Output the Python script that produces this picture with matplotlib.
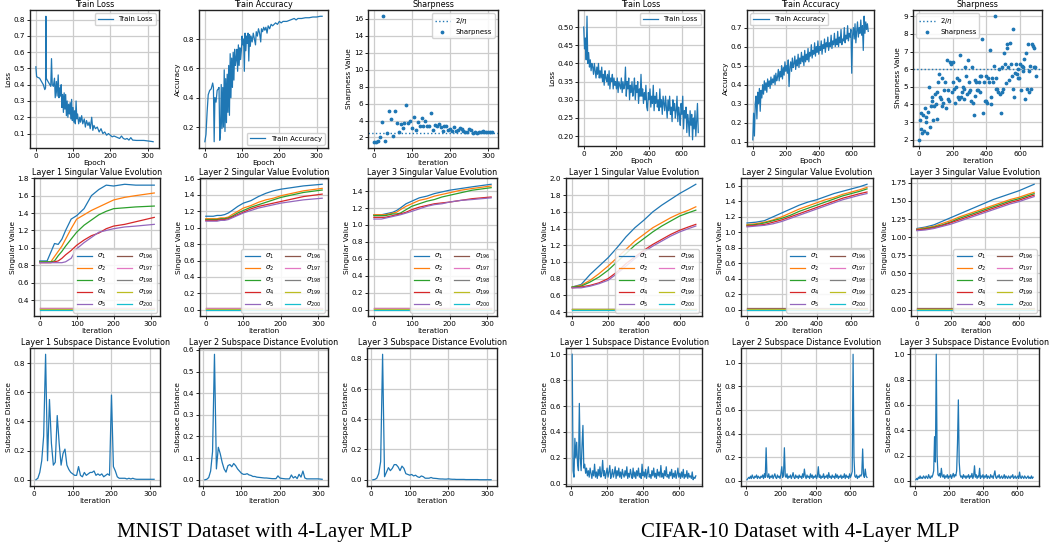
import matplotlib
matplotlib.use('Agg')
import matplotlib.pyplot as plt
import numpy as np

# ---------------- MNIST data ----------------
mn_loss_x = [0, 2, 5, 10, 15, 20, 24, 26, 27, 28, 30, 35, 40, 42, 44, 47, 50, 52, 55, 57, 60, 62, 64, 66, 68, 70, 72, 74, 76, 78,
             80, 82, 84, 86, 88, 90, 92, 94, 96, 98, 100, 102, 104, 106, 108, 110, 112, 115, 118, 120, 123, 126, 130, 133, 136,
             140, 143, 146, 150, 153, 156, 160, 165, 170, 175, 180, 185, 190, 195, 200, 205, 210, 215, 220, 225, 230, 235, 240,
             245, 250, 255, 260, 270, 280, 290, 300, 310, 315]
mn_loss_y = [0.51, 0.45, 0.445, 0.44, 0.42, 0.40, 0.37, 0.38, 0.82, 0.44, 0.43, 0.41, 0.39, 0.56, 0.40, 0.39, 0.44, 0.32, 0.42, 0.33,
             0.46, 0.32, 0.38, 0.33, 0.40, 0.26, 0.34, 0.23, 0.35, 0.25, 0.34, 0.21, 0.30, 0.20, 0.28, 0.22, 0.29, 0.19, 0.31, 0.18,
             0.26, 0.17, 0.24, 0.16, 0.30, 0.19, 0.22, 0.16, 0.20, 0.17, 0.21, 0.16, 0.19, 0.14, 0.18, 0.15, 0.17, 0.13, 0.20, 0.12,
             0.15, 0.13, 0.14, 0.11, 0.13, 0.10, 0.11, 0.09, 0.10, 0.09, 0.08, 0.085, 0.08, 0.075, 0.07, 0.085, 0.07, 0.065, 0.07,
             0.06, 0.075, 0.06, 0.058, 0.058, 0.058, 0.055, 0.052, 0.05]

mn_acc_x = [0, 3, 6, 9, 13, 17, 21, 23, 25, 27, 30, 33, 36, 38, 40, 42, 44, 46, 48, 50, 52, 54, 56, 58, 60, 62, 64, 66, 68, 70,
            72, 74, 76, 78, 80, 82, 84, 86, 88, 90, 92, 94, 96, 98, 100, 102, 104, 106, 108, 110, 112, 114, 116, 118, 120, 122,
            124, 127, 130, 133, 136, 138, 141, 144, 147, 150, 152, 155, 158, 161, 164, 167, 170, 174, 178, 182, 186, 190, 195,
            200, 205, 210, 220, 230, 240, 245, 250, 260, 270, 280, 290, 300, 310, 315]
mn_acc_y = [0.10, 0.15, 0.30, 0.42, 0.45, 0.46, 0.50, 0.47, 0.10, 0.40, 0.37, 0.45, 0.46, 0.47, 0.11, 0.16, 0.49, 0.19, 0.47, 0.20,
            0.59, 0.17, 0.53, 0.23, 0.56, 0.30, 0.62, 0.28, 0.70, 0.40, 0.67, 0.47, 0.71, 0.52, 0.73, 0.62, 0.66, 0.73, 0.58, 0.76,
            0.62, 0.74, 0.66, 0.72, 0.82, 0.76, 0.80, 0.58, 0.84, 0.72, 0.82, 0.77, 0.84, 0.65, 0.83, 0.75, 0.82, 0.78, 0.84, 0.80,
            0.76, 0.85, 0.82, 0.87, 0.84, 0.78, 0.87, 0.85, 0.88, 0.86, 0.88, 0.84, 0.89, 0.87, 0.90, 0.89, 0.90, 0.91, 0.90, 0.92,
            0.91, 0.92, 0.92, 0.93, 0.94, 0.93, 0.94, 0.94, 0.945, 0.945, 0.95, 0.95, 0.955, 0.955]

mn_sharp_x = list(range(0, 315, 5))
mn_sharp_y = [1.5, 1.5, 1.6, 2.0, 3.8, 16.3, 1.6, 2.5, 5.1, 4.2, 2.2, 5.1, 3.7, 2.6, 3.6, 3.1, 3.7, 5.8, 3.7, 3.9,
              3.1, 4.4, 2.9, 3.8, 3.3, 4.3, 3.3, 3.9, 3.4, 3.3, 4.9, 2.9, 3.5, 3.3, 3.6, 3.2, 2.8, 3.4, 3.4, 2.9,
              3.0, 2.8, 3.2, 2.8, 2.9, 3.1, 3.0, 2.8, 2.6, 2.7, 3.0, 2.9, 2.5, 2.6, 2.5, 2.6, 2.6, 2.8, 2.7, 2.7,
              2.6, 2.7, 2.7]
mn_two_over_eta = 2.5

mn_sv_x = [0, 20, 30, 40, 50, 60, 70, 85, 100, 120, 140, 160, 180, 200, 230, 260, 310]
mn_sv1 = [
    [0.85, 0.85, 0.95, 1.05, 1.04, 1.10, 1.20, 1.33, 1.37, 1.45, 1.60, 1.67, 1.72, 1.71, 1.73, 1.72, 1.72],
    [0.84, 0.84, 0.84, 0.90, 0.96, 1.02, 1.10, 1.22, 1.33, 1.38, 1.43, 1.47, 1.51, 1.55, 1.58, 1.60, 1.63],
    [0.84, 0.84, 0.84, 0.85, 0.91, 0.96, 1.02, 1.10, 1.18, 1.26, 1.32, 1.38, 1.42, 1.45, 1.46, 1.47, 1.48],
    [0.83, 0.83, 0.83, 0.84, 0.85, 0.88, 0.92, 0.97, 1.03, 1.09, 1.14, 1.17, 1.22, 1.25, 1.27, 1.30, 1.35],
    [0.83, 0.83, 0.83, 0.83, 0.83, 0.83, 0.84, 0.88, 0.99, 1.06, 1.12, 1.18, 1.20, 1.22, 1.24, 1.25, 1.27],
]
mn_sv1_small = [0.31, 0.305, 0.30, 0.295, 0.29]
mn_sv2 = [
    [1.14, 1.14, 1.15, 1.15, 1.16, 1.18, 1.21, 1.26, 1.30, 1.33, 1.38, 1.42, 1.45, 1.47, 1.49, 1.51, 1.53],
    [1.11, 1.11, 1.11, 1.12, 1.12, 1.13, 1.16, 1.20, 1.24, 1.27, 1.31, 1.34, 1.36, 1.39, 1.42, 1.45, 1.48],
    [1.10, 1.10, 1.10, 1.11, 1.11, 1.12, 1.14, 1.18, 1.21, 1.25, 1.28, 1.31, 1.34, 1.37, 1.40, 1.43, 1.46],
    [1.09, 1.09, 1.09, 1.10, 1.10, 1.11, 1.13, 1.16, 1.19, 1.23, 1.26, 1.28, 1.30, 1.32, 1.35, 1.38, 1.41],
    [1.08, 1.08, 1.08, 1.09, 1.09, 1.10, 1.12, 1.15, 1.18, 1.21, 1.24, 1.26, 1.28, 1.30, 1.32, 1.34, 1.36],
]
mn_sv2_small = [0.02, 0.015, 0.01, 0.005, 0.0]
mn_sv3 = [
    [1.12, 1.12, 1.13, 1.14, 1.15, 1.17, 1.20, 1.25, 1.28, 1.32, 1.34, 1.37, 1.39, 1.41, 1.43, 1.45, 1.48],
    [1.12, 1.12, 1.12, 1.13, 1.14, 1.15, 1.18, 1.22, 1.25, 1.29, 1.31, 1.34, 1.36, 1.38, 1.41, 1.43, 1.46],
    [1.11, 1.11, 1.11, 1.12, 1.13, 1.13, 1.14, 1.18, 1.22, 1.25, 1.28, 1.30, 1.33, 1.35, 1.38, 1.41, 1.44],
    [1.09, 1.09, 1.09, 1.10, 1.11, 1.12, 1.13, 1.15, 1.18, 1.21, 1.23, 1.25, 1.26, 1.27, 1.29, 1.31, 1.33],
    [1.07, 1.07, 1.08, 1.09, 1.10, 1.11, 1.12, 1.14, 1.16, 1.19, 1.22, 1.24, 1.25, 1.27, 1.29, 1.30, 1.32],
]
mn_sv3_small = [0.02, 0.015, 0.01, 0.005, 0.0]

mn_sd_x = list(range(5, 315, 5))
mn_sd1 = [0.0, 0.01, 0.05, 0.13, 0.30, 0.86, 0.13, 0.55, 0.25, 0.10, 0.12, 0.44, 0.25, 0.10, 0.18, 0.21, 0.10, 0.07, 0.05, 0.04,
          0.03, 0.03, 0.09, 0.03, 0.02, 0.05, 0.03, 0.04, 0.05, 0.05, 0.06, 0.03, 0.04, 0.03, 0.04, 0.02, 0.03, 0.04, 0.03, 0.58,
          0.09, 0.06, 0.02, 0.01, 0.01, 0.01, 0.01, 0.005, 0.01, 0.005, 0.01, 0.005, 0.003, 0.003, 0.003, 0.003, 0.003, 0.003,
          0.003, 0.003, 0.003, 0.003]
mn_sd2 = [0.0, 0.002, 0.01, 0.04, 0.13, 0.58, 0.05, 0.15, 0.12, 0.08, 0.05, 0.035, 0.065, 0.07, 0.06, 0.075, 0.065, 0.05, 0.04,
          0.03, 0.025, 0.025, 0.028, 0.022, 0.02, 0.015, 0.015, 0.012, 0.011, 0.01, 0.009, 0.008, 0.008, 0.007, 0.006, 0.005,
          0.005, 0.005, 0.018, 0.008, 0.006, 0.005, 0.004, 0.004, 0.004, 0.022, 0.008, 0.015, 0.005, 0.025, 0.012, 0.04, 0.008,
          0.004, 0.004, 0.004, 0.004, 0.004, 0.004, 0.004, 0.003, 0.002]
mn_sd3 = [0.0, 0.002, 0.01, 0.04, 0.12, 0.83, 0.02, 0.05, 0.08, 0.06, 0.075, 0.10, 0.10, 0.085, 0.06, 0.09, 0.075, 0.04, 0.035,
          0.03, 0.035, 0.025, 0.03, 0.02, 0.015, 0.025, 0.02, 0.01, 0.01, 0.01, 0.015, 0.01, 0.009, 0.008, 0.006, 0.005, 0.005,
          0.004, 0.004, 0.006, 0.004, 0.003, 0.003, 0.002, 0.002, 0.002, 0.002, 0.002, 0.001, 0.001, 0.001, 0.001, 0.001,
          0.001, 0.001, 0.0, 0.0, 0.0, 0.0, 0.0, 0.0, 0.0]

# ---------------- CIFAR-10 data ----------------
cf_epoch_x = list(range(0, 705, 5))
cf_loss = [0.50, 0.44, 0.47, 0.41, 0.53, 0.40, 0.43, 0.39, 0.41, 0.38, 0.40,
           0.39, 0.37, 0.40, 0.38, 0.36, 0.39, 0.37, 0.40, 0.36, 0.38,
           0.36, 0.39, 0.35, 0.37, 0.34, 0.38, 0.36, 0.35, 0.37, 0.34,
           0.38, 0.33, 0.36, 0.35, 0.37, 0.33, 0.36, 0.34, 0.35, 0.33,
           0.36, 0.32, 0.35, 0.34, 0.33, 0.36, 0.32, 0.35, 0.33, 0.34,
           0.39, 0.31, 0.35, 0.33, 0.36, 0.30, 0.34, 0.32, 0.35, 0.31,
           0.33, 0.36, 0.30, 0.34, 0.32, 0.35, 0.29, 0.33, 0.31, 0.37,
           0.31, 0.33, 0.29, 0.32, 0.30, 0.34, 0.28, 0.27, 0.32, 0.30,
           0.33, 0.28, 0.31, 0.29, 0.34, 0.27, 0.31, 0.29, 0.32, 0.28,
           0.30, 0.27, 0.33, 0.28, 0.30, 0.26, 0.31, 0.29, 0.27, 0.31,
           0.28, 0.25, 0.30, 0.27, 0.31, 0.26, 0.28, 0.24, 0.30, 0.27,
           0.29, 0.25, 0.27, 0.31, 0.24, 0.28, 0.26, 0.23, 0.29, 0.26,
           0.31, 0.22, 0.27, 0.25, 0.28, 0.21, 0.26, 0.24, 0.20, 0.27,
           0.23, 0.26, 0.19, 0.25, 0.22, 0.27, 0.20, 0.24, 0.29, 0.21]
cf_acc = [0.11, 0.25, 0.13, 0.30, 0.34, 0.22, 0.36, 0.30, 0.38, 0.26, 0.37,
          0.33, 0.40, 0.35, 0.42, 0.37, 0.41, 0.36, 0.43, 0.39, 0.42,
          0.38, 0.44, 0.40, 0.43, 0.41, 0.45, 0.40, 0.46, 0.42, 0.44,
          0.48, 0.42, 0.47, 0.44, 0.50, 0.43, 0.49, 0.45, 0.52, 0.47,
          0.50, 0.46, 0.53, 0.39, 0.49, 0.52, 0.47, 0.54, 0.49, 0.51,
          0.55, 0.48, 0.53, 0.50, 0.56, 0.49, 0.54, 0.51, 0.57, 0.52,
          0.55, 0.50, 0.58, 0.52, 0.56, 0.53, 0.59, 0.52, 0.57, 0.55,
          0.61, 0.54, 0.58, 0.56, 0.62, 0.55, 0.60, 0.57, 0.63, 0.56,
          0.60, 0.58, 0.63, 0.56, 0.61, 0.59, 0.64, 0.57, 0.62, 0.60,
          0.65, 0.58, 0.62, 0.60, 0.66, 0.59, 0.63, 0.61, 0.67, 0.60,
          0.64, 0.61, 0.68, 0.60, 0.65, 0.62, 0.69, 0.61, 0.64, 0.63,
          0.70, 0.62, 0.66, 0.64, 0.71, 0.63, 0.67, 0.65, 0.69, 0.46,
          0.66, 0.70, 0.64, 0.72, 0.62, 0.68, 0.73, 0.65, 0.70, 0.67,
          0.74, 0.66, 0.71, 0.58, 0.76, 0.67, 0.73, 0.69, 0.72, 0.68]

cf_sharp_x = list(range(0, 700, 5))
cf_sharp_y = [2.0, 3.1, 2.6, 3.5, 2.4, 3.4, 2.5, 3.8, 3.3, 3.0,
              2.4, 3.6, 5.0, 2.7, 3.9, 4.4, 4.2, 3.1, 3.9, 4.6,
              4.0, 4.7, 3.2, 5.3, 5.7, 4.4, 4.3, 3.9, 5.5, 4.1,
              4.8, 5.3, 3.8, 6.5, 4.3, 4.8, 4.2, 6.4, 6.3, 4.7,
              6.4, 5.3, 4.9, 4.1, 5.0, 5.5, 4.4, 4.3, 5.4, 6.8,
              4.4, 4.7, 5.0, 4.3, 4.9, 6.1, 5.6, 4.6, 6.5, 4.7,
              5.3, 4.8, 4.2, 6.1, 4.1, 3.4, 4.5, 5.4, 5.3, 4.8,
              4.8, 5.3, 5.6, 4.7, 5.6, 7.7, 3.5, 5.3, 4.2, 5.6,
              4.2, 4.1, 5.5, 5.3, 7.1, 4.4, 4.0, 5.5, 5.3, 6.2,
              9.0, 5.5, 4.9, 4.9, 4.7, 6.0, 4.6, 3.5, 4.7, 6.1,
              4.9, 6.9, 6.3, 5.2, 7.2, 7.4, 6.1, 5.4, 7.5, 6.3,
              5.6, 4.9, 8.3, 4.4, 5.8, 6.3, 5.7, 5.5, 6.0, 5.5,
              6.3, 4.8, 6.2, 5.9, 6.1, 6.6, 4.3, 6.9, 4.9, 7.4,
              4.7, 5.9, 6.2, 4.9, 7.4, 7.3, 7.2, 6.1, 6.1, 5.6]
cf_two_over_eta = 6.0

cf_sv_x = [0, 50, 100, 150, 200, 250, 300, 350, 400, 450, 500, 550, 600, 650, 690]
cf_sv1 = [
    [0.70, 0.73, 0.85, 0.95, 1.05, 1.17, 1.30, 1.41, 1.50, 1.60, 1.68, 1.75, 1.82, 1.88, 1.93],
    [0.70, 0.72, 0.78, 0.86, 0.95, 1.05, 1.15, 1.25, 1.33, 1.41, 1.47, 1.53, 1.58, 1.62, 1.66],
    [0.70, 0.71, 0.76, 0.82, 0.90, 1.00, 1.10, 1.20, 1.28, 1.36, 1.43, 1.49, 1.55, 1.59, 1.62],
    [0.69, 0.70, 0.72, 0.75, 0.80, 0.88, 0.98, 1.06, 1.14, 1.21, 1.27, 1.33, 1.38, 1.42, 1.45],
    [0.69, 0.69, 0.71, 0.74, 0.78, 0.86, 0.95, 1.04, 1.12, 1.19, 1.25, 1.31, 1.36, 1.40, 1.43],
]
cf_sv1_small = [0.44, 0.437, 0.434, 0.431, 0.428]
cf_sv2 = [
    [1.12, 1.13, 1.15, 1.20, 1.25, 1.30, 1.35, 1.39, 1.42, 1.46, 1.50, 1.53, 1.56, 1.59, 1.62],
    [1.10, 1.11, 1.13, 1.16, 1.20, 1.25, 1.30, 1.34, 1.38, 1.42, 1.45, 1.49, 1.52, 1.55, 1.58],
    [1.09, 1.10, 1.12, 1.15, 1.18, 1.22, 1.27, 1.31, 1.35, 1.39, 1.43, 1.47, 1.50, 1.53, 1.56],
    [1.08, 1.09, 1.10, 1.13, 1.16, 1.20, 1.24, 1.28, 1.32, 1.36, 1.40, 1.44, 1.47, 1.50, 1.52],
    [1.07, 1.08, 1.09, 1.11, 1.14, 1.18, 1.22, 1.26, 1.30, 1.34, 1.38, 1.42, 1.45, 1.48, 1.50],
]
cf_sv2_small = [0.02, 0.015, 0.01, 0.005, 0.0]
cf_sv3 = [
    [1.12, 1.14, 1.17, 1.22, 1.27, 1.32, 1.37, 1.42, 1.47, 1.52, 1.56, 1.60, 1.64, 1.69, 1.73],
    [1.11, 1.13, 1.15, 1.19, 1.23, 1.28, 1.32, 1.36, 1.40, 1.44, 1.48, 1.52, 1.55, 1.59, 1.62],
    [1.10, 1.12, 1.14, 1.17, 1.21, 1.26, 1.30, 1.34, 1.38, 1.42, 1.46, 1.50, 1.53, 1.57, 1.60],
    [1.10, 1.11, 1.13, 1.16, 1.20, 1.24, 1.28, 1.32, 1.36, 1.40, 1.44, 1.48, 1.51, 1.55, 1.58],
    [1.09, 1.10, 1.12, 1.15, 1.18, 1.22, 1.26, 1.30, 1.34, 1.38, 1.42, 1.46, 1.49, 1.53, 1.56],
]
cf_sv3_small = [0.02, 0.015, 0.01, 0.005, 0.0]

cf_sd_x = list(range(5, 700, 5))
cf_sd1 = [1.00, 0.10, 0.05, 0.35, 0.20, 0.32, 0.15, 0.10, 0.62, 0.20,
          0.10, 0.30, 0.45, 0.12, 0.15, 0.08, 0.12, 0.06, 0.10, 0.05,
          0.12, 0.08, 0.04, 0.10, 0.06, 0.15, 0.05, 0.09, 0.04, 0.11,
          0.06, 0.13, 0.05, 0.08, 0.18, 0.06, 0.10, 0.04, 0.08, 0.12,
          0.05, 0.09, 0.14, 0.04, 0.07, 0.11, 0.05, 0.08, 0.13, 0.04,
          0.10, 0.06, 0.12, 0.05, 0.09, 0.04, 0.11, 0.07, 0.05, 0.10,
          0.06, 0.13, 0.04, 0.08, 0.05, 0.11, 0.07, 0.04, 0.12, 0.05,
          0.09, 0.04, 0.10, 0.06, 0.12, 0.05, 0.08, 0.04, 0.15, 0.06,
          0.09, 0.05, 0.11, 0.04, 0.08, 0.13, 0.05, 0.07, 0.04, 0.10,
          0.06, 0.12, 0.05, 0.08, 0.04, 0.11, 0.06, 0.09, 0.05, 0.14,
          0.05, 0.08, 0.04, 0.10, 0.06, 0.13, 0.05, 0.07, 0.04, 0.09,
          0.06, 0.11, 0.04, 0.08, 0.05, 0.10, 0.04, 0.07, 0.12, 0.05,
          0.08, 0.04, 0.09, 0.05, 0.11, 0.04, 0.07, 0.05, 0.10, 0.04,
          0.08, 0.05, 0.06, 0.04, 0.09, 0.03, 0.05, 0.04, 0.06]
cf_sd2 = [0.01, 0.02, 0.03, 0.02, 0.04, 0.02, 0.05, 0.03, 0.02, 0.04,
          0.03, 0.05, 0.02, 0.04, 0.03, 0.02, 0.04, 0.03, 0.05, 0.02,
          0.06, 0.03, 0.28, 0.04, 0.03, 0.06, 0.02, 0.04, 0.03, 0.05,
          0.02, 0.04, 0.06, 0.03, 0.02, 0.05, 0.03, 0.04, 0.02, 0.06,
          0.12, 0.03, 0.05, 0.28, 0.04, 0.03, 0.06, 0.02, 0.04, 0.03,
          0.05, 0.02, 0.04, 0.07, 0.03, 0.02, 0.05, 0.03, 0.04, 0.02,
          0.05, 0.03, 0.04, 0.02, 0.06, 0.03, 0.10, 0.04, 0.02, 0.05,
          0.03, 0.04, 0.02, 0.06, 0.03, 0.05, 0.02, 0.04, 0.03, 0.05,
          0.02, 0.04, 0.12, 0.03, 0.05, 0.02, 0.04, 0.03, 0.06, 0.02,
          0.04, 0.03, 0.05, 0.02, 0.07, 0.03, 0.04, 0.02, 0.05, 0.03,
          0.04, 0.02, 0.06, 0.03, 0.05, 0.02, 0.04, 0.03, 0.05, 0.02,
          0.04, 0.03, 0.06, 0.02, 0.05, 0.03, 0.04, 0.02, 0.06, 0.03,
          0.05, 0.08, 1.07, 0.20, 0.04, 0.03, 0.05, 0.02, 0.04, 0.03,
          0.05, 0.04, 0.06, 0.27, 0.05, 0.03, 0.10, 0.04, 0.03]
cf_sd3 = [0.01, 0.02, 0.01, 0.03, 0.02, 0.04, 0.02, 0.03, 0.02, 0.04,
          0.03, 0.02, 0.04, 0.03, 0.02, 0.05, 0.03, 0.02, 0.04, 0.03,
          0.05, 0.08, 0.35, 0.15, 1.00, 0.20, 0.05, 0.04, 0.06, 0.03,
          0.10, 0.04, 0.03, 0.05, 0.02, 0.04, 0.03, 0.05, 0.02, 0.04,
          0.03, 0.05, 0.02, 0.04, 0.06, 0.03, 0.05, 0.04, 0.08, 0.30,
          0.64, 0.15, 0.05, 0.03, 0.04, 0.02, 0.05, 0.03, 0.04, 0.02,
          0.04, 0.03, 0.05, 0.02, 0.04, 0.03, 0.06, 0.02, 0.04, 0.12,
          0.03, 0.05, 0.02, 0.04, 0.03, 0.10, 0.02, 0.04, 0.03, 0.05,
          0.02, 0.04, 0.03, 0.05, 0.02, 0.04, 0.03, 0.02, 0.05, 0.03,
          0.04, 0.02, 0.05, 0.08, 0.03, 0.02, 0.04, 0.03, 0.05, 0.02,
          0.03, 0.04, 0.02, 0.03, 0.05, 0.02, 0.04, 0.03, 0.02, 0.04,
          0.03, 0.02, 0.04, 0.03, 0.05, 0.02, 0.03, 0.04, 0.02, 0.03,
          0.04, 0.02, 0.07, 0.03, 0.02, 0.04, 0.03, 0.02, 0.04, 0.03,
          0.02, 0.03, 0.04, 0.02, 0.03, 0.02, 0.04, 0.02, 0.03]

sv_top_labels = [r'$\sigma_{1}$', r'$\sigma_{2}$', r'$\sigma_{3}$', r'$\sigma_{4}$', r'$\sigma_{5}$']
sv_bottom_labels = [r'$\sigma_{196}$', r'$\sigma_{197}$', r'$\sigma_{198}$', r'$\sigma_{199}$', r'$\sigma_{200}$']
captions = ['MNIST Dataset with 4-Layer MLP', 'CIFAR-10 Dataset with 4-Layer MLP']

# ---------------- drawing ----------------
W, H = 1050, 550
fig = plt.figure(figsize=(W / 100, H / 100), dpi=100)
plt.rcParams['font.family'] = ['DejaVu Sans']
plt.rcParams['mathtext.fontset'] = 'dejavusans'

C = ['#1f77b4', '#ff7f0e', '#2ca02c', '#d62728', '#9467bd',
     '#8c564b', '#e377c2', '#7f7f7f', '#bcbd22', '#17becf']


def add_ax(l, t, r, b):
    return fig.add_axes([l / W, 1 - b / H, (r - l) / W, (b - t) / H])


def style(ax, title, xlabel, ylabel):
    ax.set_title(title, fontsize=5.8, pad=2)
    ax.set_xlabel(xlabel, fontsize=5.3, labelpad=1)
    ax.set_ylabel(ylabel, fontsize=5.3, labelpad=1.5)
    ax.tick_params(labelsize=5.2, length=2, width=0.6, pad=1.5)
    ax.grid(True, color='#cccccc', lw=0.9)
    ax.set_axisbelow(True)
    for s in ax.spines.values():
        s.set_linewidth(1.0)
        s.set_color('#222222')


def legend(ax, loc, **kw):
    ax.legend(loc=loc, fontsize=5, borderpad=0.4, handlelength=2.2, labelspacing=0.4,
              framealpha=0.85, edgecolor='#cccccc', **kw)


def plot_sv(ax, x, big, small, title):
    for i, ys in enumerate(big):
        ax.plot(x, ys, color=C[i], lw=0.9, label=sv_top_labels[i])
    for j, v in enumerate(small):
        ax.plot([x[0], x[-1]], [v, v], color=C[5 + j], lw=0.9, label=sv_bottom_labels[j])
    style(ax, title, 'Iteration', 'Singular Value')
    h, l = ax.get_legend_handles_labels()
    ax.legend(h, l, loc='lower right', ncol=2, fontsize=5, borderpad=0.45, handlelength=2.2,
              labelspacing=0.4, columnspacing=1.5, framealpha=0.85, edgecolor='#cccccc')


def plot_sd(ax, x, y, title):
    ax.plot(x, y, color=C[0], lw=0.9)
    style(ax, title, 'Iteration', 'Subspace Distance')


groups = [
    dict(pos=[[(30, 10, 159, 148), (199, 10, 328, 148), (368, 10, 498, 148)],
              [(34, 178, 160, 316), (200, 178, 328, 316), (368, 178, 497, 316)],
              [(30, 348, 160, 486), (199, 348, 328, 486), (367, 348, 497, 486)]],
         loss=(mn_loss_x, mn_loss_y), acc=(mn_acc_x, mn_acc_y), sharp=(mn_sharp_x, mn_sharp_y),
         eta=mn_two_over_eta, sv_x=mn_sv_x, sv=[mn_sv1, mn_sv2, mn_sv3],
         sv_small=[mn_sv1_small, mn_sv2_small, mn_sv3_small],
         sd_x=mn_sd_x, sd=[mn_sd1, mn_sd2, mn_sd3],
         acc_loc='lower right', sharp_loc='upper right', xt=[0, 100, 200, 300], cap_x=265),
    dict(pos=[[(578, 10, 704, 146), (747, 10, 874, 146), (913, 10, 1042, 146)],
              [(566, 178, 702, 316), (741, 178, 873, 316), (911, 178, 1040, 316)],
              [(566, 348, 702, 486), (741, 348, 873, 486), (910, 348, 1039, 486)]],
         loss=(cf_epoch_x, cf_loss), acc=(cf_epoch_x, cf_acc), sharp=(cf_sharp_x, cf_sharp_y),
         eta=cf_two_over_eta, sv_x=cf_sv_x, sv=[cf_sv1, cf_sv2, cf_sv3],
         sv_small=[cf_sv1_small, cf_sv2_small, cf_sv3_small],
         sd_x=cf_sd_x, sd=[cf_sd1, cf_sd2, cf_sd3],
         acc_loc='upper left', sharp_loc='upper left', xt=[0, 200, 400, 600], cap_x=800),
]

for gi, g in enumerate(groups):
    P = g['pos']
    ax = add_ax(*P[0][0])
    ax.plot(*g['loss'], color=C[0], lw=0.9, label='Train Loss')
    style(ax, 'Train Loss', 'Epoch', 'Loss')
    legend(ax, 'upper right')
    ax.set_xticks(g['xt'])

    ax = add_ax(*P[0][1])
    ax.plot(*g['acc'], color=C[0], lw=0.9, label='Train Accuracy')
    style(ax, 'Train Accuracy', 'Epoch', 'Accuracy')
    legend(ax, g['acc_loc'])
    ax.set_xticks(g['xt'])

    ax = add_ax(*P[0][2])
    ax.axhline(g['eta'], color=C[0], ls=':', lw=1.0, label=r'$2/\eta$')
    ax.scatter(*g['sharp'], s=3, color=C[0], label='Sharpness', zorder=3)
    style(ax, 'Sharpness', 'Iteration', 'Sharpness Value')
    legend(ax, g['sharp_loc'])
    ax.set_xticks(g['xt'])

    for k in range(3):
        ax = add_ax(*P[1][k])
        plot_sv(ax, g['sv_x'], g['sv'][k], g['sv_small'][k], f'Layer {k + 1} Singular Value Evolution')
        ax.set_xticks(g['xt'])

    for k in range(3):
        ax = add_ax(*P[2][k])
        plot_sd(ax, g['sd_x'], g['sd'][k], f'Layer {k + 1} Subspace Distance Evolution')
        ax.set_xticks(g['xt'])

    fig.text(g['cap_x'] / W, 1 - 533 / H, captions[gi], ha='center', va='center',
             fontsize=15, family='Liberation Serif')

fig.savefig('out.png', dpi=100)
